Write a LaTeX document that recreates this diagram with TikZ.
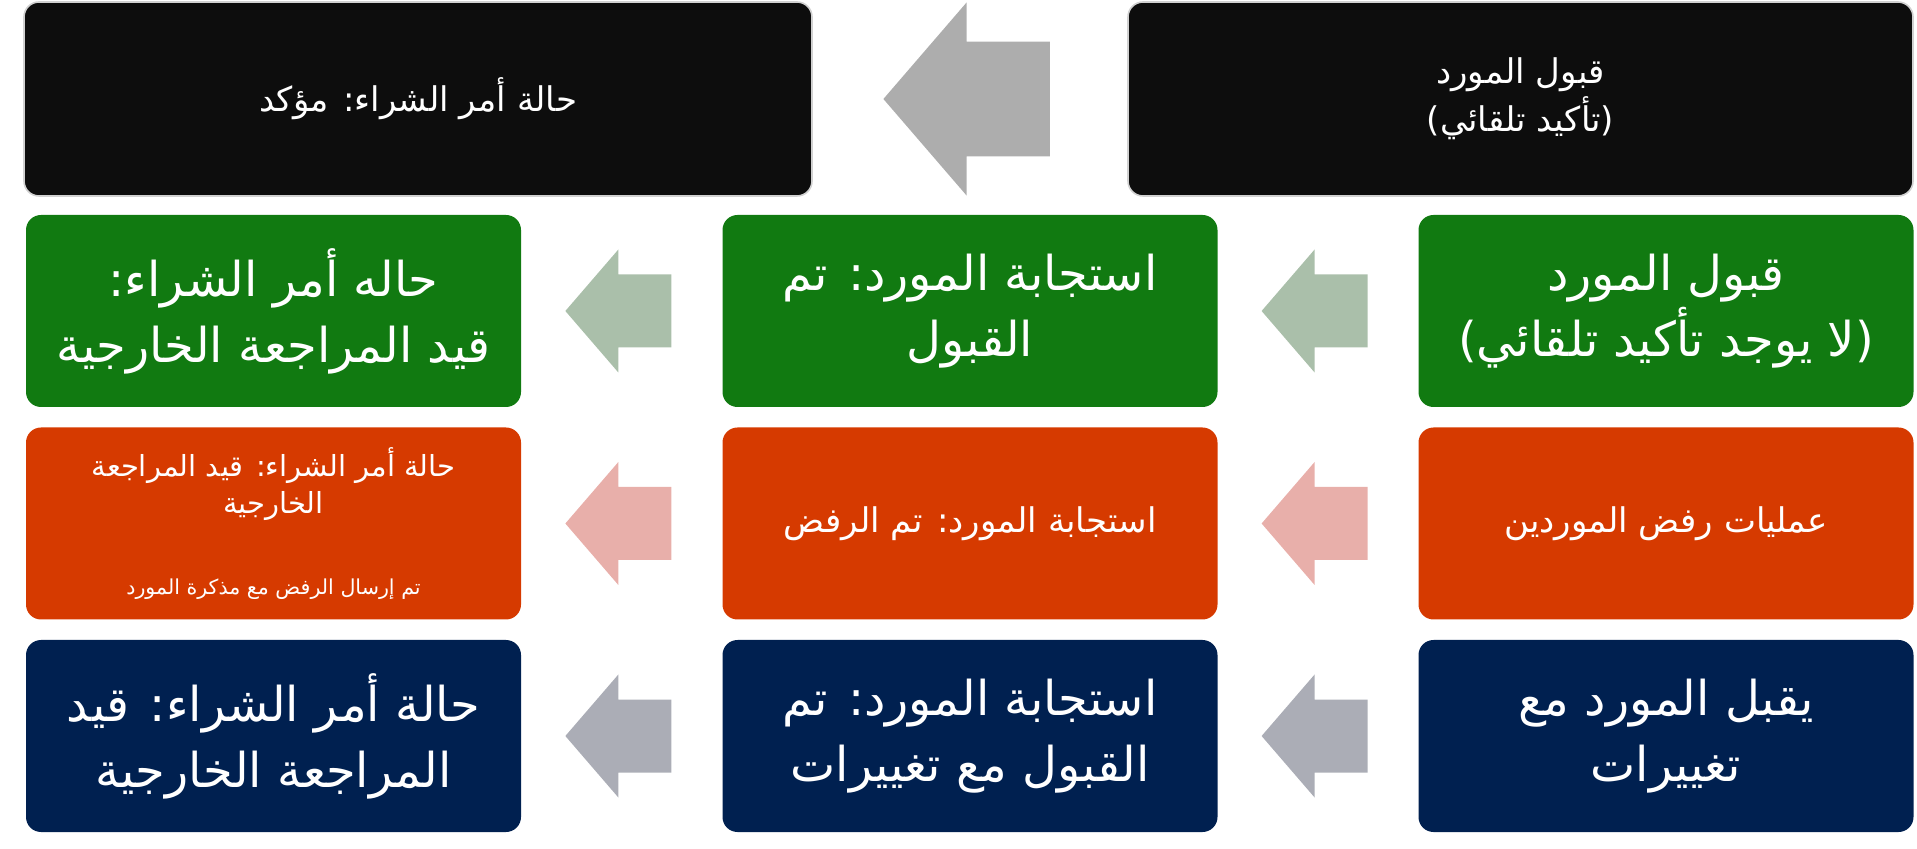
\documentclass[tikz,border=0pt]{standalone}
\usepackage{fontspec}
\usepackage{tikz}
\usetikzlibrary{calc}
\newfontfamily\arabicfont[Script=Arabic]{DejaVu Sans}
\TeXXeTstate=1
\definecolor{boxblack}{HTML}{0D0D0D}
\definecolor{boxgreen}{HTML}{117A11}
\definecolor{boxorange}{HTML}{D63A00}
\definecolor{boxnavy}{HTML}{002050}
\definecolor{arrowgray}{HTML}{ADADAD}
\definecolor{arrowsage}{HTML}{AABFAA}
\definecolor{arrowpink}{HTML}{E8AFAA}
\definecolor{arrowslate}{HTML}{ABADB6}

\begin{document}
\begin{tikzpicture}[x=0.5pt,y=-0.5pt]
  \newcommand{\rtl}[1]{\beginR#1\endR}
  \newcommand{\flowarrow}[4]{%
    \fill[#3,shift={($(#1.west)!0.5!(#2.east)$)},xshift=-1.7pt,scale=#4]
      (-53,0) -- (0,-61.5) -- (0,-36.5) -- (53,-36.5) -- (53,36.5) -- (0,36.5) -- (0,61.5) -- cycle;}
  \tikzset{
    anybox/.style={rounded corners=7.5pt, text=white, align=center, inner sep=0pt},
    topbox/.style={anybox, fill=boxblack, draw=black!18, line width=0.8pt,
      minimum height=97pt, font=\arabicfont\fontsize{17}{24}\selectfont},
    rowbox/.style={anybox, minimum width=247.5pt, minimum height=96pt},
    bigtext/.style={font=\arabicfont\fontsize{24}{33}\selectfont},
    midtext/.style={font=\arabicfont\fontsize{17}{20}\selectfont},
    greenbox/.style={rowbox, bigtext, fill=boxgreen},
    orangebox/.style={rowbox, midtext, fill=boxorange},
    navybox/.style={rowbox, bigtext, fill=boxnavy}
  }
  \useasboundingbox (0,0) rectangle (1917,849);

  % top row
  \node[topbox, minimum width=394pt] (poconfirmed) at (418,99) {\rtl{حالة أمر الشراء: مؤكد}};
  \node[topbox, minimum width=392.5pt] (autoaccept) at (1520.5,99) {\rtl{قبول المورد}\\\rtl{(تأكيد تلقائي)}};

  % accepted
  \node[greenbox] (acceptstatus) at (273.5,311) {\rtl{حاله أمر الشراء:}\\\rtl{قيد المراجعة الخارجية}};
  \node[greenbox] (acceptresp) at (970,311) {\rtl{استجابة المورد: تم}\\\rtl{القبول}};
  \node[greenbox] (noauto) at (1666,311) {\rtl{قبول المورد}\\\rtl{(لا يوجد تأكيد تلقائي)}};

  % rejected
  \node[orangebox, font=\arabicfont\fontsize{14.5}{18.5}\selectfont] (rejectstatus) at (273.5,523.5)
    {\rtl{حالة أمر الشراء: قيد المراجعة}\\\rtl{الخارجية}\\[22pt]
    {\fontsize{10.3}{13}\selectfont\rtl{تم إرسال الرفض مع مذكرة المورد}}};
  \node[orangebox] (rejectresp) at (970,523.5) {\rtl{استجابة المورد: تم الرفض}};
  \node[orangebox] (rejectops) at (1666,523.5) {\rtl{عمليات رفض الموردين}};

  % accepted with changes
  \node[navybox] (changestatus) at (273.5,736) {\rtl{حالة أمر الشراء: قيد}\\\rtl{المراجعة الخارجية}};
  \node[navybox] (changeresp) at (970,736) {\rtl{استجابة المورد: تم}\\\rtl{القبول مع تغييرات}};
  \node[navybox] (withchanges) at (1666,736) {\rtl{يقبل المورد مع}\\\rtl{تغييرات}};

  \flowarrow{autoaccept}{poconfirmed}{arrowgray}{1.57}
  \flowarrow{acceptresp}{acceptstatus}{arrowsage}{1}
  \flowarrow{noauto}{acceptresp}{arrowsage}{1}
  \flowarrow{rejectresp}{rejectstatus}{arrowpink}{1}
  \flowarrow{rejectops}{rejectresp}{arrowpink}{1}
  \flowarrow{changeresp}{changestatus}{arrowslate}{1}
  \flowarrow{withchanges}{changeresp}{arrowslate}{1}
\end{tikzpicture}
\end{document}
